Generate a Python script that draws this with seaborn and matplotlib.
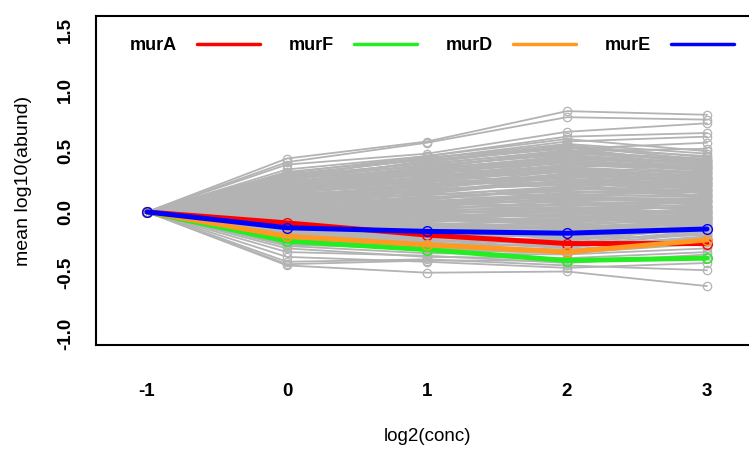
import matplotlib
matplotlib.use("Agg")
import matplotlib.pyplot as plt
from matplotlib.lines import Line2D
import seaborn as sns
import pandas as pd

# ---------------- data ----------------
conc = [-1, 0, 1, 2, 3]
start_value = 0.0

# background genes: mean log10(abund) at log2(conc) = 0, 1, 2, 3 (all start at 0 at -1)
gray_c0 = [0.44, 0.41, 0.39, 0.35, 0.33, 0.31, 0.30, 0.28, 0.27, 0.25, 0.24, 0.22, 0.21, 0.20,
           0.19, 0.18, 0.17, 0.16, 0.15, 0.14, 0.13, 0.12, 0.11, 0.10, 0.09, 0.08, 0.07, 0.06,
           0.05, 0.04, 0.03, 0.02, 0.01, 0.00, -0.01, -0.02, -0.03, -0.04, -0.05, -0.06, -0.07,
           -0.08, -0.09, -0.10, -0.11, -0.12, -0.13, -0.14, -0.15, -0.16, -0.17, -0.18, -0.19,
           -0.20, -0.21, -0.22, -0.23, -0.24, -0.25, -0.26, -0.27, -0.28, -0.30, -0.33, -0.37,
           -0.41, -0.44, -0.43, 0.26, 0.23, 0.20, 0.16, 0.12, 0.08, 0.04, 0.00, -0.04, -0.08,
           -0.12, -0.16, 0.29, 0.18, 0.06, -0.02, -0.10,
           0.28, 0.27, 0.25, 0.24, 0.23, 0.22, 0.21, 0.20, 0.19, 0.18, 0.17, 0.16, 0.15, 0.14,
           0.13, 0.12, 0.11, 0.10, 0.09, 0.08, 0.07, 0.06, 0.05, 0.04, 0.03, 0.02, 0.01, 0.00,
           -0.01, -0.02, -0.03, -0.04, -0.05, -0.06, -0.07, -0.08, -0.09, -0.10, -0.11, -0.12,
           -0.13, -0.14, -0.15, -0.16, -0.17, -0.18, -0.19, -0.20, -0.21, -0.22, -0.23, -0.24,
           -0.25, -0.26, 0.30, 0.26, 0.32, 0.29, 0.22, 0.18]
gray_c1 = [0.58, 0.57, 0.48, 0.46, 0.44, 0.43, 0.40, 0.38, 0.36, 0.33, 0.30, 0.34, 0.28, 0.26,
           0.31, 0.24, 0.22, 0.27, 0.20, 0.18, 0.23, 0.16, 0.19, 0.14, 0.17, 0.12, 0.15, 0.10,
           0.08, 0.13, 0.06, 0.09, 0.04, 0.07, 0.02, 0.05, 0.00, 0.03, -0.02, 0.01, -0.04,
           -0.01, -0.06, -0.03, -0.08, -0.05, -0.10, -0.12, -0.09, -0.14, -0.16, -0.13, -0.18,
           -0.20, -0.22, -0.19, -0.24, -0.26, -0.23, -0.28, -0.30, -0.34, -0.37, -0.36, -0.41,
           -0.39, -0.50, -0.40, 0.42, 0.37, 0.35, 0.29, 0.21, 0.25, 0.11, 0.05, -0.07, -0.11,
           -0.15, -0.21, 0.45, 0.32, 0.18, 0.08, -0.02,
           0.41, 0.39, 0.37, 0.35, 0.33, 0.31, 0.32, 0.29, 0.27, 0.28, 0.25, 0.23, 0.26, 0.21,
           0.22, 0.19, 0.17, 0.18, 0.15, 0.14, 0.11, 0.12, 0.10, 0.09, 0.07, 0.06, 0.05, 0.03,
           0.04, 0.01, 0.02, -0.01, 0.00, -0.03, -0.02, -0.05, -0.04, -0.07, -0.06, -0.09,
           -0.11, -0.10, -0.13, -0.12, -0.15, -0.17, -0.16, -0.21, -0.18, -0.23, -0.25, -0.27,
           -0.29, -0.31, 0.44, 0.42, 0.46, 0.38, 0.36, 0.34]
gray_c2 = [0.83, 0.78, 0.66, 0.62, 0.58, 0.52, 0.50, 0.48, 0.45, 0.42, 0.47, 0.40, 0.38, 0.35,
           0.33, 0.36, 0.30, 0.28, 0.32, 0.26, 0.24, 0.29, 0.22, 0.20, 0.25, 0.18, 0.14, 0.21,
           0.16, 0.11, 0.13, 0.08, 0.12, 0.05, 0.09, 0.03, 0.06, 0.00, 0.04, -0.03, 0.01,
           -0.05, -0.02, -0.08, -0.04, -0.10, -0.07, -0.12, -0.15, -0.11, -0.18, -0.14, -0.20,
           -0.17, -0.23, -0.25, -0.22, -0.28, -0.30, -0.27, -0.33, -0.35, -0.38, -0.42, -0.46,
           -0.44, -0.49, -0.40, 0.55, 0.50, 0.44, 0.41, 0.34, 0.27, 0.19, 0.10, 0.02, -0.06,
           -0.13, -0.19, 0.53, 0.37, 0.23, 0.15, -0.09,
           0.53, 0.51, 0.49, 0.46, 0.44, 0.43, 0.41, 0.39, 0.37, 0.34, 0.36, 0.31, 0.33, 0.29,
           0.27, 0.30, 0.25, 0.23, 0.26, 0.21, 0.19, 0.17, 0.20, 0.15, 0.14, 0.10, 0.11, 0.07,
           0.06, 0.04, 0.02, 0.01, -0.01, -0.02, -0.04, -0.06, -0.09, -0.08, -0.11, -0.13,
           -0.10, -0.14, -0.16, -0.17, -0.19, -0.21, -0.22, -0.24, -0.26, -0.27, -0.29, -0.31,
           -0.32, -0.34, 0.56, 0.54, 0.60, 0.47, 0.50, 0.42]
gray_c3 = [0.80, 0.76, 0.73, 0.65, 0.62, 0.57, 0.52, 0.43, 0.40, 0.37, 0.35, 0.32, 0.36, 0.30,
           0.28, 0.33, 0.25, 0.31, 0.24, 0.27, 0.20, 0.22, 0.26, 0.18, 0.15, 0.21, 0.17, 0.12,
           0.19, 0.10, 0.14, 0.07, 0.11, 0.09, 0.04, 0.06, 0.02, 0.05, -0.01, 0.03, 0.00,
           -0.03, 0.01, -0.05, -0.02, -0.07, -0.04, -0.09, -0.06, -0.11, -0.08, -0.13, -0.10,
           -0.15, -0.12, -0.17, -0.19, -0.21, -0.16, -0.23, -0.25, -0.30, -0.33, -0.35, -0.42,
           -0.48, -0.61, -0.38, 0.45, 0.41, 0.38, 0.34, 0.29, 0.23, 0.16, 0.08, 0.00, -0.03,
           -0.07, -0.14, 0.39, 0.27, 0.13, 0.05, -0.18,
           0.46, 0.42, 0.44, 0.39, 0.41, 0.36, 0.34, 0.37, 0.31, 0.29, 0.32, 0.27, 0.25, 0.28,
           0.23, 0.24, 0.21, 0.19, 0.22, 0.17, 0.18, 0.14, 0.16, 0.12, 0.13, 0.09, 0.10, 0.08,
           0.05, 0.03, 0.04, 0.01, 0.02, -0.01, 0.00, -0.03, -0.02, -0.05, -0.04, -0.07,
           -0.06, -0.09, -0.08, -0.11, -0.10, -0.12, -0.14, -0.13, -0.15, -0.18, -0.20, -0.22,
           -0.24, -0.26, 0.48, 0.43, 0.50, 0.40, 0.38, 0.35]

genes = ["murA", "murF", "murD", "murE"]
gene_colors = ["#ff0000", "#22ee22", "#ff9922", "#0000ff"]
murA = [0.0, -0.09, -0.19, -0.26, -0.26]
murF = [0.0, -0.24, -0.31, -0.40, -0.38]
murD = [0.0, -0.20, -0.27, -0.33, -0.23]
murE = [0.0, -0.13, -0.16, -0.175, -0.14]
gene_values = [murA, murF, murD, murE]

xticks = [-1, 0, 1, 2, 3]
yticks = [-1.0, -0.5, 0.0, 0.5, 1.0, 1.5]
ytick_labels = ["-1.0", "-0.5", "0.0", "0.5", "1.0", "1.5"]

# ---------------- frames ----------------
rows = []
for i, vals in enumerate(zip(gray_c0, gray_c1, gray_c2, gray_c3)):
    for x, y in zip(conc, (start_value,) + vals):
        rows.append({"gene": f"g{i}", "conc": x, "val": y})
gray_df = pd.DataFrame(rows)

# ---------------- plot ----------------
sns.set_style("white")
plt.rcParams["font.family"] = ["Liberation Sans", "DejaVu Sans"]
plt.rcParams["axes.unicode_minus"] = False
for k in ("text.color", "axes.labelcolor", "xtick.color", "ytick.color"):
    plt.rcParams[k] = "black"

W, H = 749, 450
fig = plt.figure(figsize=(W / 100, H / 100), dpi=100)
ax = fig.add_axes([96 / W, 105 / H, (775 - 96) / W, (345 - 16) / H])

sns.lineplot(data=gray_df, x="conc", y="val", units="gene", estimator=None,
             color="#b3b3b3", lw=1.3, marker="o", markersize=6,
             markerfacecolor="none", markeredgecolor="#b3b3b3", markeredgewidth=0.9,
             ax=ax, legend=False, sort=False)

for g, c, v in zip(genes, gene_colors, gene_values):
    df = pd.DataFrame({"conc": conc, "val": v})
    sns.lineplot(data=df, x="conc", y="val", color=c, lw=3.6, marker="o",
                 markersize=7, markerfacecolor="none", markeredgecolor=c,
                 markeredgewidth=1.0, ax=ax, legend=False, sort=False)

ax.set_xlim(-1.364, 3.486)
ax.set_ylim(-1.095, 1.613)
ax.set_xticks(xticks)
ax.set_xticklabels([str(t) for t in xticks], fontweight="bold", fontsize=13.5)
ax.set_yticks(yticks)
ax.set_yticklabels(ytick_labels, fontweight="bold", fontsize=13.5, rotation=90, va="center")
ax.tick_params(axis="both", direction="out", length=9, width=1.1, color="black")
ax.tick_params(axis="x", pad=18)
ax.tick_params(axis="y", pad=7)
for s in ax.spines.values():
    s.set_linewidth(1.5)
    s.set_color("black")
    s.set_visible(True)

ax.set_xlabel("log2(conc)", fontsize=13.5)
ax.set_ylabel("mean log10(abund)", fontsize=14)
ax.xaxis.set_label_coords(0.4875, -0.252)
ax.yaxis.set_label_coords(-0.094, 0.5)

handles = [Line2D([0], [0], color=c, lw=2.5) for c in gene_colors]
ax.legend(handles, genes, ncol=4, markerfirst=False, frameon=False,
          loc="upper left", bbox_to_anchor=(0.050, 0.936), borderaxespad=0,
          borderpad=0, handlelength=3.5, handletextpad=1.1, columnspacing=1.6,
          prop={"weight": "bold", "size": 13})

fig.savefig("out.png", dpi=100)
